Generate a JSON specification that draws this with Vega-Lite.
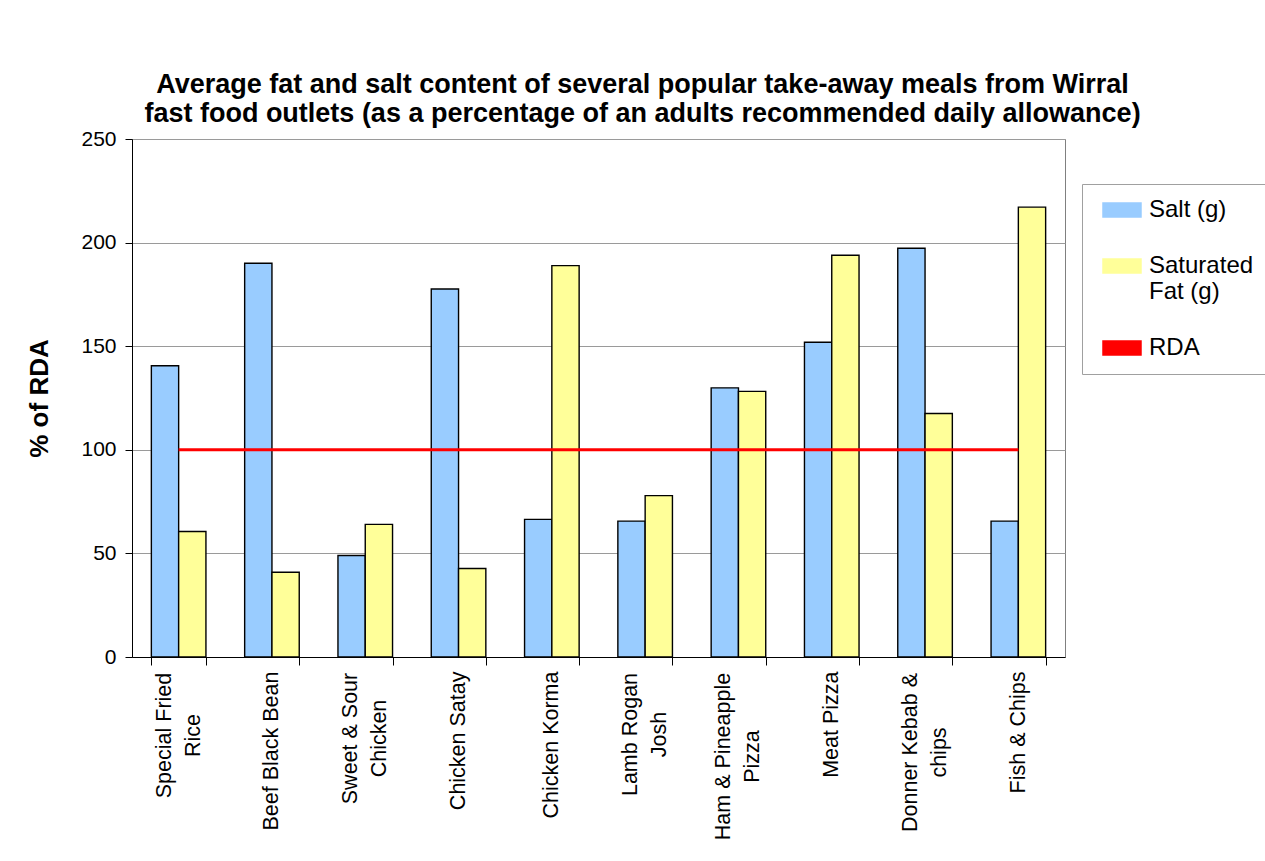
{
  "$schema": "https://vega.github.io/schema/vega-lite/v6.json",
  "width": 933,
  "height": 518,
  "autosize": {"type": "none"},
  "padding": {"left": 132, "top": 139, "right": 200, "bottom": 204},
  "background": "white",
  "config": {
    "font": "Liberation Sans",
    "view": {"stroke": "#808080", "strokeWidth": 1},
    "axis": {"labelFont": "Liberation Sans", "titleFont": "Liberation Sans", "labelColor": "black", "titleColor": "black"}
  },
  "title": {
    "text": [
      "Average fat and salt content  of several popular take-away meals from Wirral",
      "fast food outlets (as a percentage of an adults recommended daily allowance)"
    ],
    "font": "Liberation Sans",
    "fontSize": 27,
    "fontWeight": "bold",
    "color": "black",
    "anchor": "middle",
    "frame": "group",
    "dx": 44,
    "offset": 0,
    "lineHeight": 29
  },
  "datasets": {
    "meals": [
      {"meal": "Special Fried\nRice", "series": "Salt (g)", "value": 140.6},
      {"meal": "Special Fried\nRice", "series": "Saturated Fat (g)", "value": 60.6},
      {"meal": "Beef Black Bean", "series": "Salt (g)", "value": 190.0},
      {"meal": "Beef Black Bean", "series": "Saturated Fat (g)", "value": 40.9},
      {"meal": "Sweet & Sour\nChicken", "series": "Salt (g)", "value": 49.0},
      {"meal": "Sweet & Sour\nChicken", "series": "Saturated Fat (g)", "value": 64.0},
      {"meal": "Chicken Satay", "series": "Salt (g)", "value": 177.6},
      {"meal": "Chicken Satay", "series": "Saturated Fat (g)", "value": 42.7},
      {"meal": "Chicken Korma", "series": "Salt (g)", "value": 66.4},
      {"meal": "Chicken Korma", "series": "Saturated Fat (g)", "value": 188.9},
      {"meal": "Lamb Rogan\nJosh", "series": "Salt (g)", "value": 65.6},
      {"meal": "Lamb Rogan\nJosh", "series": "Saturated Fat (g)", "value": 77.9},
      {"meal": "Ham & Pineapple\nPizza", "series": "Salt (g)", "value": 129.9},
      {"meal": "Ham & Pineapple\nPizza", "series": "Saturated Fat (g)", "value": 128.2},
      {"meal": "Meat Pizza", "series": "Salt (g)", "value": 151.9},
      {"meal": "Meat Pizza", "series": "Saturated Fat (g)", "value": 193.9},
      {"meal": "Donner Kebab &\nchips", "series": "Salt (g)", "value": 197.3},
      {"meal": "Donner Kebab &\nchips", "series": "Saturated Fat (g)", "value": 117.5},
      {"meal": "Fish & Chips", "series": "Salt (g)", "value": 65.6},
      {"meal": "Fish & Chips", "series": "Saturated Fat (g)", "value": 217.1}
    ],
    "rda": [
      {"meal": "Special Fried\nRice", "series": "RDA", "value": 100},
      {"meal": "Beef Black Bean", "series": "RDA", "value": 100},
      {"meal": "Sweet & Sour\nChicken", "series": "RDA", "value": 100},
      {"meal": "Chicken Satay", "series": "RDA", "value": 100},
      {"meal": "Chicken Korma", "series": "RDA", "value": 100},
      {"meal": "Lamb Rogan\nJosh", "series": "RDA", "value": 100},
      {"meal": "Ham & Pineapple\nPizza", "series": "RDA", "value": 100},
      {"meal": "Meat Pizza", "series": "RDA", "value": 100},
      {"meal": "Donner Kebab &\nchips", "series": "RDA", "value": 100},
      {"meal": "Fish & Chips", "series": "RDA", "value": 100}
    ]
  },
  "layer": [
    {
      "data": {"name": "meals"},
      "mark": {"type": "bar", "stroke": "black", "strokeWidth": 1.4},
      "encoding": {
        "x": {
          "field": "meal",
          "type": "nominal",
          "sort": null,
          "scale": {"paddingInner": 0.415, "paddingOuter": 0.2075},
          "axis": {
            "title": null,
            "labelAngle": -90,
            "labelFontSize": 21.5,
            "labelLineHeight": 29,
            "labelExpr": "split(datum.label, '\\n')",
            "labelAlign": {"condition": {"test": "indexof(datum.label, '\\n') >= 0", "value": "center"}, "value": "right"},
            "labelOffset": {"condition": {"test": "indexof(datum.label, '\\n') >= 0", "value": -14.5}, "value": 0},
            "labelPadding": {
              "condition": [
                {"test": "datum.label == 'Special Fried\\nRice'", "value": 70},
                {"test": "datum.label == 'Sweet & Sour\\nChicken'", "value": 73},
                {"test": "datum.label == 'Lamb Rogan\\nJosh'", "value": 69},
                {"test": "datum.label == 'Ham & Pineapple\\nPizza'", "value": 91},
                {"test": "datum.label == 'Donner Kebab &\\nchips'", "value": 87}
              ],
              "value": 6
            },
            "tickBand": "extent",
            "tickSize": 8,
            "tickColor": "black",
            "domainColor": "black",
            "labelLimit": 400
          }
        },
        "xOffset": {"field": "series", "type": "nominal", "sort": ["Salt (g)", "Saturated Fat (g)"], "scale": {"paddingInner": 0, "paddingOuter": 0}},
        "y": {
          "field": "value",
          "type": "quantitative",
          "scale": {"domain": [0, 250], "nice": false},
          "axis": {
            "title": "% of RDA",
            "titleFontSize": 26,
            "titleFontWeight": "bold",
            "titleX": -93,
            "titleY": 259,
            "titleAngle": -90,
            "titleAlign": "center",
            "titleBaseline": "middle",
            "values": [0, 50, 100, 150, 200, 250],
            "labelFontSize": 21,
            "labelPadding": 9,
            "tickSize": 7,
            "tickColor": "black",
            "domainColor": "black",
            "gridColor": "#9a9a9a",
            "gridWidth": 1
          }
        },
        "color": {
          "field": "series",
          "type": "nominal",
          "scale": {"domain": ["Salt (g)", "Saturated Fat (g)", "RDA"], "range": ["#99CCFF", "#FFFF99", "#FF0000"]},
          "legend": {
            "title": null,
            "orient": "none",
            "legendX": 950,
            "legendY": 45,
            "fillColor": "white",
            "strokeColor": "#a0a0a0",
            "padding": 14,
            "rowPadding": 32,
            "symbolSize": 196,
            "symbolType": "M-0.714,-1H4.714V1H-0.714Z",
            "symbolStrokeColor": "black",
            "symbolStrokeWidth": 1.5,
            "labelFontSize": 24,
            "labelColor": "black",
            "labelFont": "Liberation Sans",
            "labelOffset": 29,
            "labelLimit": 400,
            "labelExpr": "datum.value == 'Saturated Fat (g)' ? ['Saturated', 'Fat (g)'] : datum.value"
          }
        }
      }
    },
    {
      "data": {"name": "rda"},
      "mark": {"type": "line", "strokeWidth": 3},
      "encoding": {
        "x": {"field": "meal", "type": "nominal", "sort": null},
        "y": {"field": "value", "type": "quantitative"},
        "color": {"field": "series", "type": "nominal", "legend": null}
      }
    }
  ]
}
